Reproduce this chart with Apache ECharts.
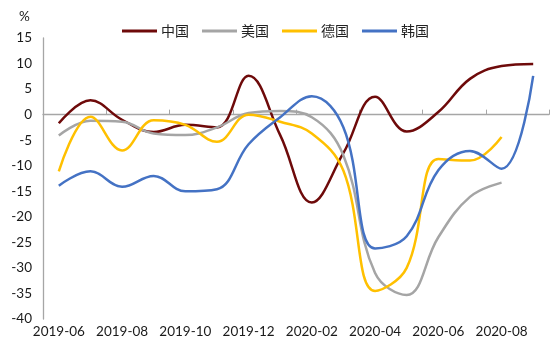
<!DOCTYPE html>
<html>
<head>
<meta charset="utf-8">
<script src="https://cdn.jsdelivr.net/npm/echarts@6/dist/echarts.min.js"></script>
<style>
  html, body { margin: 0; padding: 0; background: #fff; }
  #chart { width: 550px; height: 350px; }
</style>
</head>
<body>
<div id="chart"></div>
<script>
// Monthly export growth, year on year (%)
const months = ['2019-06', '2019-07', '2019-08', '2019-09', '2019-10', '2019-11', '2019-12',
  '2020-01', '2020-02', '2020-03', '2020-04', '2020-05', '2020-06', '2020-07', '2020-08', '2020-09'];
const china   = [-1.7, 2.8, -1.0, -3.4, -2.0, -2.5, 7.6, -4.0, -17.2, -7.5, 3.5, -3.3, 0.5, 7.0, 9.5, 9.9];
const usa     = [-4.1, -1.2, -1.4, -3.7, -4.0, -2.5, 0.3, 0.7, -0.5, -8.0, -31.0, -35.3, -24.0, -16.1, -13.3, null];
const germany = [-11.1, -0.4, -7.0, -1.1, -2.0, -5.3, 0.0, -1.4, -3.7, -11.0, -34.5, -30.0, -8.7, -9.0, -4.4, null];
const korea   = [-13.9, -11.1, -14.1, -12.0, -15.0, -14.6, -5.8, -0.5, 3.6, -2.5, -26.2, -23.8, -10.9, -7.1, -10.6, 7.6];

const seriesNames = ['中国', '美国', '德国', '韩国'];
const seriesData = [china, usa, germany, korea];
const colors = ['#6E0A0A', '#A5A5A5', '#FFC000', '#4472C4'];

const labelFont = { fontFamily: 'Lato, "Open Sans", sans-serif', fontSize: 13.5, color: '#1a1a1a' };

const chart = echarts.init(document.getElementById('chart'), null, { renderer: 'canvas' });
chart.setOption({
  animation: false,
  backgroundColor: '#ffffff',
  color: colors,
  graphic: [{
    type: 'text', left: 19, top: 10,
    style: { text: '%', font: '13.5px Lato, "Open Sans", sans-serif', fill: '#1a1a1a' }
  }],
  legend: {
    left: 117, top: 19,
    icon: 'rect', itemWidth: 35, itemHeight: 3, itemGap: 13,
    textStyle: { fontFamily: '"Noto Sans CJK SC", sans-serif', fontSize: 14, color: '#222', padding: [0, 0, 0, -1] },
    data: seriesNames
  },
  grid: { left: 43, right: 1, top: 38, bottom: 31, containLabel: false },
  xAxis: [{
    type: 'category',
    data: months,
    boundaryGap: true,
    axisLine: { onZero: true, lineStyle: { color: '#A6A6A6', width: 1.3 } },
    axisTick: { show: true, inside: true, length: 5, interval: 1, lineStyle: { color: '#A6A6A6' } },
    axisLabel: { show: false },
    splitLine: { show: false }
  }, {
    type: 'category',
    data: months,
    position: 'bottom',
    boundaryGap: true,
    axisLine: { show: false, onZero: false },
    axisTick: { show: false },
    axisLabel: Object.assign({ interval: 1, margin: 6 }, labelFont),
    splitLine: { show: false }
  }],
  yAxis: {
    type: 'value',
    min: -40, max: 15, interval: 5,
    axisLine: { show: true, lineStyle: { color: '#A6A6A6', width: 1.3 } },
    axisTick: { show: false },
    splitLine: { show: false },
    axisLabel: Object.assign({ margin: 11 }, labelFont)
  },
  series: seriesNames.map((name, i) => ({
    name: name,
    type: 'line',
    xAxisIndex: 0,
    data: seriesData[i],
    smooth: 0.4,
    showSymbol: false,
    symbol: 'none',
    connectNulls: false,
    lineStyle: { width: 2.5, color: colors[i] },
    z: 2 + i
  }))
});
</script>
</body>
</html>
